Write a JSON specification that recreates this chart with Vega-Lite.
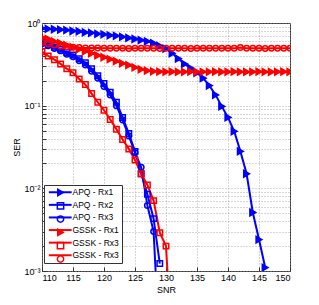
{
  "$schema": "https://vega.github.io/schema/vega-lite/v6.json",
  "width": 248,
  "height": 248,
  "autosize": "none",
  "padding": {"left": 42, "top": 23, "right": 29, "bottom": 34},
  "background": "white",
  "config": {
    "font": "Liberation Sans",
    "view": {"stroke": "#333333", "strokeWidth": 1},
    "axis": {
      "labelFont": "Liberation Sans", "labelFontSize": 9, "labelColor": "#000000",
      "titleFont": "Liberation Sans", "titleFontSize": 9, "titleFontWeight": "normal", "titleColor": "#000000",
      "domain": false, "tickColor": "#333333", "tickSize": -4, "labelPadding": 6,
      "grid": true, "gridColor": "#999999", "gridDash": [1, 2], "gridOpacity": 1, "gridWidth": 0.8
    },
    "legend": {
      "labelFont": "Liberation Sans", "labelFontSize": 9, "labelColor": "#000000"
    }
  },
  "data": {"values": [
    {"series":"APQ - Rx1","snr":110,"ser":0.86},{"series":"APQ - Rx1","snr":111,"ser":0.85},{"series":"APQ - Rx1","snr":112,"ser":0.84},{"series":"APQ - Rx1","snr":113,"ser":0.83},{"series":"APQ - Rx1","snr":114,"ser":0.82},{"series":"APQ - Rx1","snr":115,"ser":0.80},{"series":"APQ - Rx1","snr":116,"ser":0.79},{"series":"APQ - Rx1","snr":117,"ser":0.77},{"series":"APQ - Rx1","snr":118,"ser":0.76},{"series":"APQ - Rx1","snr":119,"ser":0.74},{"series":"APQ - Rx1","snr":120,"ser":0.73},{"series":"APQ - Rx1","snr":121,"ser":0.71},{"series":"APQ - Rx1","snr":122,"ser":0.70},{"series":"APQ - Rx1","snr":123,"ser":0.68},{"series":"APQ - Rx1","snr":124,"ser":0.66},{"series":"APQ - Rx1","snr":125,"ser":0.64},{"series":"APQ - Rx1","snr":126,"ser":0.62},{"series":"APQ - Rx1","snr":127,"ser":0.60},{"series":"APQ - Rx1","snr":128,"ser":0.57},{"series":"APQ - Rx1","snr":129,"ser":0.53},{"series":"APQ - Rx1","snr":130,"ser":0.49},{"series":"APQ - Rx1","snr":131,"ser":0.43},{"series":"APQ - Rx1","snr":132,"ser":0.37},{"series":"APQ - Rx1","snr":133,"ser":0.32},{"series":"APQ - Rx1","snr":134,"ser":0.285},{"series":"APQ - Rx1","snr":135,"ser":0.25},{"series":"APQ - Rx1","snr":136,"ser":0.215},{"series":"APQ - Rx1","snr":137,"ser":0.175},{"series":"APQ - Rx1","snr":138,"ser":0.135},{"series":"APQ - Rx1","snr":139,"ser":0.098},{"series":"APQ - Rx1","snr":140,"ser":0.072},{"series":"APQ - Rx1","snr":141,"ser":0.049},{"series":"APQ - Rx1","snr":142,"ser":0.028},{"series":"APQ - Rx1","snr":143,"ser":0.015},{"series":"APQ - Rx1","snr":144,"ser":0.0051},{"series":"APQ - Rx1","snr":145,"ser":0.0024},{"series":"APQ - Rx1","snr":146,"ser":0.0011},
    {"series":"APQ - Rx2","snr":110,"ser":0.58},{"series":"APQ - Rx2","snr":111,"ser":0.55},{"series":"APQ - Rx2","snr":112,"ser":0.51},{"series":"APQ - Rx2","snr":113,"ser":0.48},{"series":"APQ - Rx2","snr":114,"ser":0.44},{"series":"APQ - Rx2","snr":115,"ser":0.41},{"series":"APQ - Rx2","snr":116,"ser":0.37},{"series":"APQ - Rx2","snr":117,"ser":0.33},{"series":"APQ - Rx2","snr":118,"ser":0.28},{"series":"APQ - Rx2","snr":119,"ser":0.23},{"series":"APQ - Rx2","snr":120,"ser":0.185},{"series":"APQ - Rx2","snr":121,"ser":0.145},{"series":"APQ - Rx2","snr":122,"ser":0.11},{"series":"APQ - Rx2","snr":123,"ser":0.072},{"series":"APQ - Rx2","snr":124,"ser":0.046},{"series":"APQ - Rx2","snr":125,"ser":0.028},{"series":"APQ - Rx2","snr":126,"ser":0.015},{"series":"APQ - Rx2","snr":127,"ser":0.0085},{"series":"APQ - Rx2","snr":128,"ser":0.0043},{"series":"APQ - Rx2","snr":129,"ser":0.00123},
    {"series":"APQ - Rx3","snr":110,"ser":0.56},{"series":"APQ - Rx3","snr":111,"ser":0.53},{"series":"APQ - Rx3","snr":112,"ser":0.49},{"series":"APQ - Rx3","snr":113,"ser":0.46},{"series":"APQ - Rx3","snr":114,"ser":0.42},{"series":"APQ - Rx3","snr":115,"ser":0.39},{"series":"APQ - Rx3","snr":116,"ser":0.35},{"series":"APQ - Rx3","snr":117,"ser":0.31},{"series":"APQ - Rx3","snr":118,"ser":0.26},{"series":"APQ - Rx3","snr":119,"ser":0.215},{"series":"APQ - Rx3","snr":120,"ser":0.17},{"series":"APQ - Rx3","snr":121,"ser":0.135},{"series":"APQ - Rx3","snr":122,"ser":0.10},{"series":"APQ - Rx3","snr":123,"ser":0.067},{"series":"APQ - Rx3","snr":124,"ser":0.043},{"series":"APQ - Rx3","snr":125,"ser":0.027},{"series":"APQ - Rx3","snr":126,"ser":0.018},{"series":"APQ - Rx3","snr":127,"ser":0.0062},{"series":"APQ - Rx3","snr":128,"ser":0.0030},{"series":"APQ - Rx3","snr":129,"ser":0.0001},
    {"series":"GSSK - Rx1","snr":110,"ser":0.67},{"series":"GSSK - Rx1","snr":111,"ser":0.64},{"series":"GSSK - Rx1","snr":112,"ser":0.60},{"series":"GSSK - Rx1","snr":113,"ser":0.57},{"series":"GSSK - Rx1","snr":114,"ser":0.54},{"series":"GSSK - Rx1","snr":115,"ser":0.51},{"series":"GSSK - Rx1","snr":116,"ser":0.48},{"series":"GSSK - Rx1","snr":117,"ser":0.455},{"series":"GSSK - Rx1","snr":118,"ser":0.43},{"series":"GSSK - Rx1","snr":119,"ser":0.405},{"series":"GSSK - Rx1","snr":120,"ser":0.385},{"series":"GSSK - Rx1","snr":121,"ser":0.365},{"series":"GSSK - Rx1","snr":122,"ser":0.345},{"series":"GSSK - Rx1","snr":123,"ser":0.325},{"series":"GSSK - Rx1","snr":124,"ser":0.31},{"series":"GSSK - Rx1","snr":125,"ser":0.29},{"series":"GSSK - Rx1","snr":126,"ser":0.275},{"series":"GSSK - Rx1","snr":127,"ser":0.265},{"series":"GSSK - Rx1","snr":128,"ser":0.26},{"series":"GSSK - Rx1","snr":129,"ser":0.258},{"series":"GSSK - Rx1","snr":130,"ser":0.257},{"series":"GSSK - Rx1","snr":131,"ser":0.258},{"series":"GSSK - Rx1","snr":132,"ser":0.256},{"series":"GSSK - Rx1","snr":133,"ser":0.257},{"series":"GSSK - Rx1","snr":134,"ser":0.258},{"series":"GSSK - Rx1","snr":135,"ser":0.256},{"series":"GSSK - Rx1","snr":136,"ser":0.257},{"series":"GSSK - Rx1","snr":137,"ser":0.257},{"series":"GSSK - Rx1","snr":138,"ser":0.258},{"series":"GSSK - Rx1","snr":139,"ser":0.256},{"series":"GSSK - Rx1","snr":140,"ser":0.257},{"series":"GSSK - Rx1","snr":141,"ser":0.258},{"series":"GSSK - Rx1","snr":142,"ser":0.257},{"series":"GSSK - Rx1","snr":143,"ser":0.256},{"series":"GSSK - Rx1","snr":144,"ser":0.257},{"series":"GSSK - Rx1","snr":145,"ser":0.258},{"series":"GSSK - Rx1","snr":146,"ser":0.257},{"series":"GSSK - Rx1","snr":147,"ser":0.256},{"series":"GSSK - Rx1","snr":148,"ser":0.257},{"series":"GSSK - Rx1","snr":149,"ser":0.258},{"series":"GSSK - Rx1","snr":150,"ser":0.257},
    {"series":"GSSK - Rx3","snr":110,"ser":0.45},{"series":"GSSK - Rx3","snr":111,"ser":0.40},{"series":"GSSK - Rx3","snr":112,"ser":0.36},{"series":"GSSK - Rx3","snr":113,"ser":0.32},{"series":"GSSK - Rx3","snr":114,"ser":0.28},{"series":"GSSK - Rx3","snr":115,"ser":0.25},{"series":"GSSK - Rx3","snr":116,"ser":0.21},{"series":"GSSK - Rx3","snr":117,"ser":0.18},{"series":"GSSK - Rx3","snr":118,"ser":0.14},{"series":"GSSK - Rx3","snr":119,"ser":0.11},{"series":"GSSK - Rx3","snr":120,"ser":0.088},{"series":"GSSK - Rx3","snr":121,"ser":0.068},{"series":"GSSK - Rx3","snr":122,"ser":0.052},{"series":"GSSK - Rx3","snr":123,"ser":0.039},{"series":"GSSK - Rx3","snr":124,"ser":0.030},{"series":"GSSK - Rx3","snr":125,"ser":0.022},{"series":"GSSK - Rx3","snr":126,"ser":0.015},{"series":"GSSK - Rx3","snr":127,"ser":0.011},{"series":"GSSK - Rx3","snr":128,"ser":0.0071},{"series":"GSSK - Rx3","snr":129,"ser":0.0029},{"series":"GSSK - Rx3","snr":130,"ser":0.0020},{"series":"GSSK - Rx3","snr":131,"ser":0.0001},
    {"series":"GSSK - Rx3 (circle)","snr":110,"ser":0.58},{"series":"GSSK - Rx3 (circle)","snr":111,"ser":0.56},{"series":"GSSK - Rx3 (circle)","snr":112,"ser":0.54},{"series":"GSSK - Rx3 (circle)","snr":113,"ser":0.525},{"series":"GSSK - Rx3 (circle)","snr":114,"ser":0.515},{"series":"GSSK - Rx3 (circle)","snr":115,"ser":0.51},{"series":"GSSK - Rx3 (circle)","snr":116,"ser":0.505},{"series":"GSSK - Rx3 (circle)","snr":117,"ser":0.50},{"series":"GSSK - Rx3 (circle)","snr":118,"ser":0.50},{"series":"GSSK - Rx3 (circle)","snr":119,"ser":0.497},{"series":"GSSK - Rx3 (circle)","snr":120,"ser":0.495},{"series":"GSSK - Rx3 (circle)","snr":121,"ser":0.494},{"series":"GSSK - Rx3 (circle)","snr":122,"ser":0.496},{"series":"GSSK - Rx3 (circle)","snr":123,"ser":0.495},{"series":"GSSK - Rx3 (circle)","snr":124,"ser":0.493},{"series":"GSSK - Rx3 (circle)","snr":125,"ser":0.495},{"series":"GSSK - Rx3 (circle)","snr":126,"ser":0.496},{"series":"GSSK - Rx3 (circle)","snr":127,"ser":0.494},{"series":"GSSK - Rx3 (circle)","snr":128,"ser":0.495},{"series":"GSSK - Rx3 (circle)","snr":129,"ser":0.493},{"series":"GSSK - Rx3 (circle)","snr":130,"ser":0.495},{"series":"GSSK - Rx3 (circle)","snr":131,"ser":0.494},{"series":"GSSK - Rx3 (circle)","snr":132,"ser":0.496},{"series":"GSSK - Rx3 (circle)","snr":133,"ser":0.495},{"series":"GSSK - Rx3 (circle)","snr":134,"ser":0.493},{"series":"GSSK - Rx3 (circle)","snr":135,"ser":0.495},{"series":"GSSK - Rx3 (circle)","snr":136,"ser":0.494},{"series":"GSSK - Rx3 (circle)","snr":137,"ser":0.496},{"series":"GSSK - Rx3 (circle)","snr":138,"ser":0.495},{"series":"GSSK - Rx3 (circle)","snr":139,"ser":0.494},{"series":"GSSK - Rx3 (circle)","snr":140,"ser":0.495},{"series":"GSSK - Rx3 (circle)","snr":141,"ser":0.496},{"series":"GSSK - Rx3 (circle)","snr":142,"ser":0.505},{"series":"GSSK - Rx3 (circle)","snr":143,"ser":0.495},{"series":"GSSK - Rx3 (circle)","snr":144,"ser":0.494},{"series":"GSSK - Rx3 (circle)","snr":145,"ser":0.495},{"series":"GSSK - Rx3 (circle)","snr":146,"ser":0.493},{"series":"GSSK - Rx3 (circle)","snr":147,"ser":0.495},{"series":"GSSK - Rx3 (circle)","snr":148,"ser":0.494},{"series":"GSSK - Rx3 (circle)","snr":149,"ser":0.495},{"series":"GSSK - Rx3 (circle)","snr":150,"ser":0.494}
  ]},
  "encoding": {
    "x": {"field": "snr", "type": "quantitative", "title": "SNR",
      "scale": {"domain": [110, 150], "nice": false, "zero": false},
      "axis": {"values": [110, 115, 120, 125, 130, 135, 140, 145, 150], "titlePadding": 3}},
    "y": {"field": "ser", "type": "quantitative", "title": "SER",
      "scale": {"type": "log", "domain": [0.001, 1], "nice": false},
      "axis": {"values": [0.001,0.002,0.003,0.004,0.005,0.006,0.007,0.008,0.009,0.01,0.02,0.03,0.04,0.05,0.06,0.07,0.08,0.09,0.1,0.2,0.3,0.4,0.5,0.6,0.7,0.8,0.9,1],
        "labelExpr": "datum.value == 1 ? '10⁰' : datum.value == 0.1 ? '10⁻¹' : datum.value == 0.01 ? '10⁻²' : datum.value == 0.001 ? '10⁻³' : ''",
        "titlePadding": 2}}
  },
  "layer": [
    {
      "mark": {"type": "line", "strokeWidth": 2, "clip": true},
      "encoding": {
        "stroke": {"field": "series", "type": "nominal",
          "scale": {"domain": ["APQ - Rx1", "APQ - Rx2", "APQ - Rx3", "GSSK - Rx1", "GSSK - Rx3", "GSSK - Rx3 (circle)"],
            "range": ["#0000ff", "#0000ff", "#0000ff", "#ff0000", "#ff0000", "#ff0000"]},
          "legend": {"title": null, "orient": "none", "legendX": 2, "legendY": 162,
            "fillColor": "white", "strokeColor": "#333333", "padding": 3,
            "symbolType": "M-3.8,0L3.8,0", "symbolSize": 36, "symbolStrokeWidth": 2, "symbolOffset": 9,
            "labelOffset": 8, "labelFontSize": 8.5, "rowPadding": 3.6,
            "labelExpr": "replace(datum.label, ' (circle)', '')"}
        },
        "detail": {"field": "series"}
      }
    },
    {
      "mark": {"type": "point", "strokeWidth": 1.5, "clip": true, "opacity": 1},
      "encoding": {
        "color": {"field": "series", "type": "nominal",
          "scale": {"range": ["#0000ff", "#0000ff", "#0000ff", "#ff0000", "#ff0000", "#ff0000"]},
          "legend": {"title": null, "orient": "none", "legendX": 2, "legendY": 162,
            "padding": 3,
            "symbolSize": 40, "symbolStrokeWidth": 1.5, "symbolOffset": 9, "labelOffset": 11, "rowPadding": 0.3,
            "labelOpacity": 0,
            "labelExpr": "''"}},
        "fill": {"field": "series", "type": "nominal",
          "scale": {"range": ["#0000ff", "transparent", "transparent", "#ff0000", "transparent", "transparent"]}},
        "shape": {"field": "series", "type": "nominal",
          "scale": {"range": ["triangle-right", "square", "circle", "triangle-right", "square", "circle"]}},
        "size": {"condition": {"test": "indexof(datum.series, 'Rx1') >= 0", "value": 45}, "value": 30}
      }
    }
  ]
}
